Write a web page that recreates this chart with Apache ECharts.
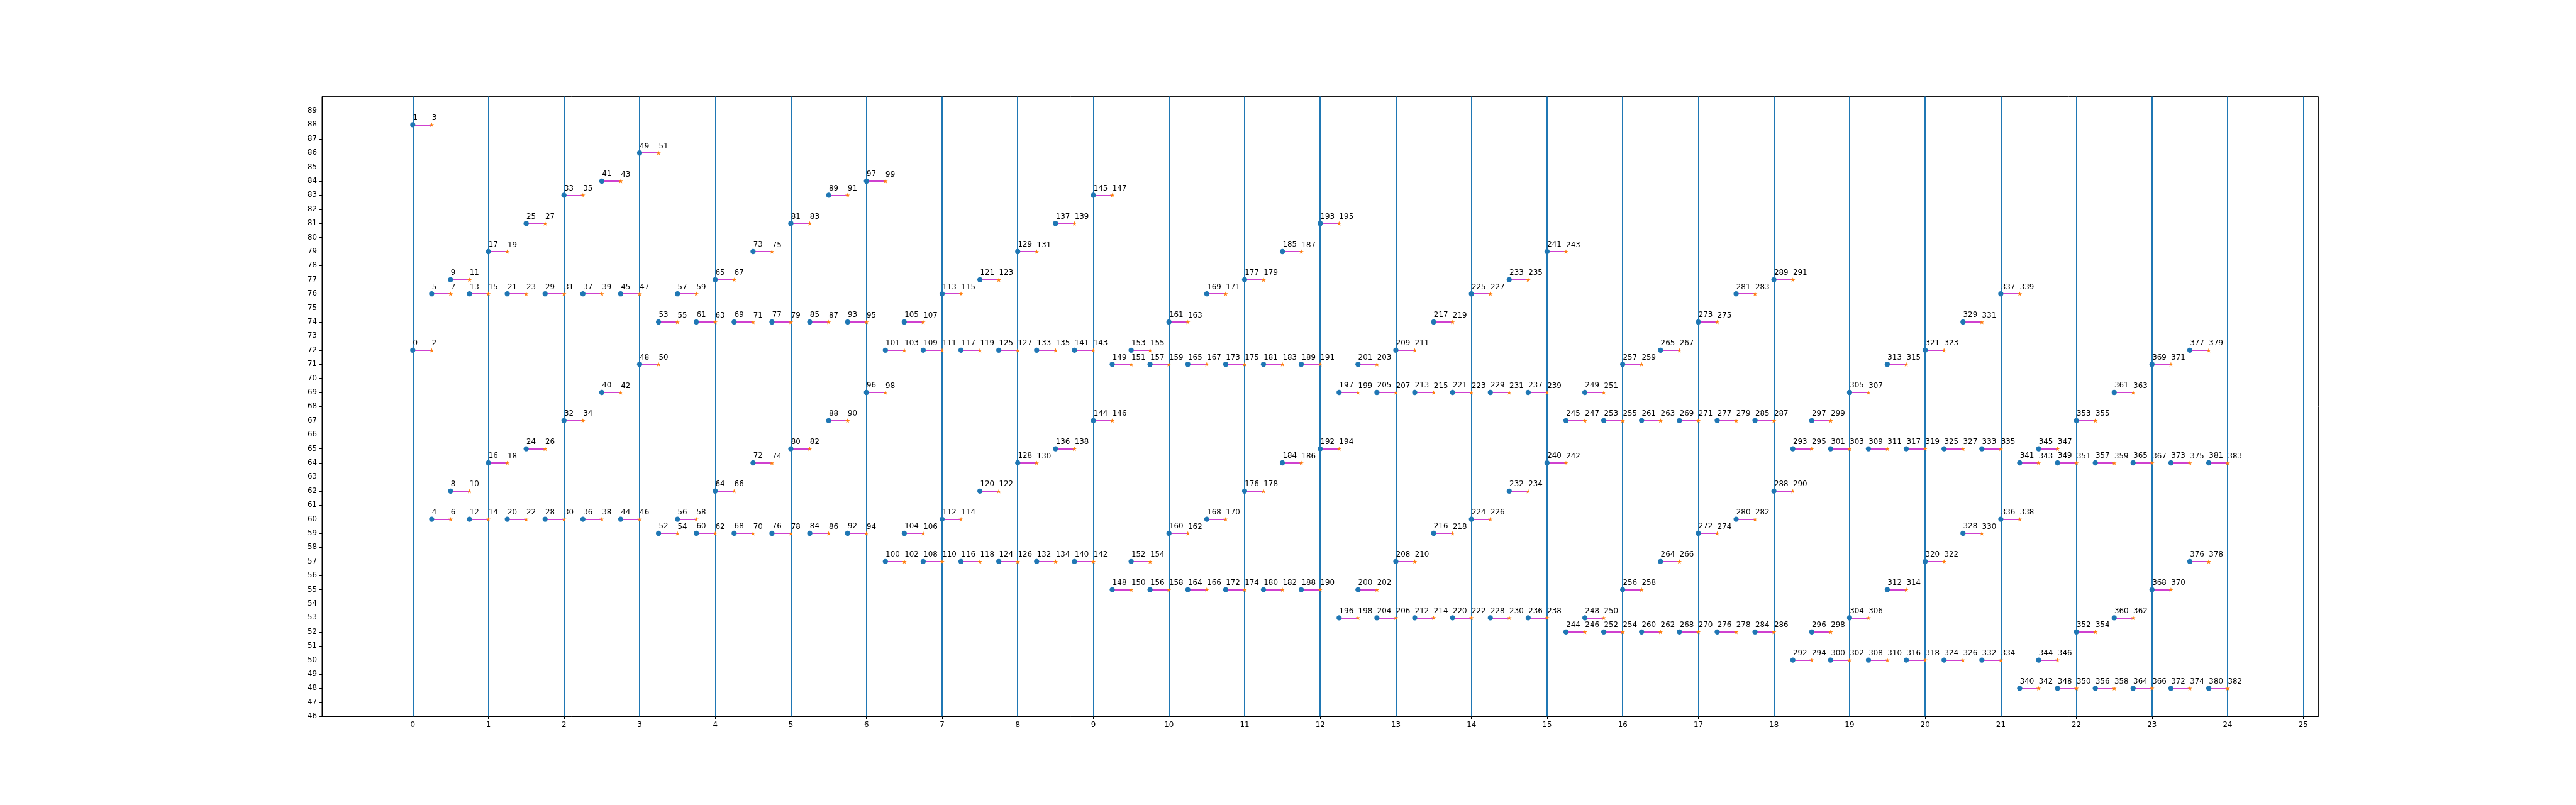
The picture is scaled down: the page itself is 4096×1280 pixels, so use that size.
<!DOCTYPE html>
<html>
<head>
<meta charset="utf-8">
<script src="https://cdn.jsdelivr.net/npm/echarts@6/dist/echarts.min.js"></script>
<style>
html,body{margin:0;padding:0;background:#fff;}
#chart{width:4096px;height:1280px;}
</style>
</head>
<body>
<div id="chart"></div>
<script>
// Upper level of each step (labels 4j+1 at start, 4j+3 at end)
const highValues = [
  88,76,77,76,79,76,81,76,83,76,84,76,86,74,76,74,
  77,74,79,74,81,74,83,74,84,72,74,72,76,72,77,72,
  79,72,81,72,83,71,72,71,74,71,76,71,77,71,79,71,
  81,69,71,69,72,69,74,69,76,69,77,69,79,67,69,67,
  71,67,72,67,74,67,76,67,77,65,67,65,69,65,71,65,
  72,65,74,65,76,64,65,64,67,64,69,64,71,64,72,64
];
// Lower level of each step (labels 4j at start, 4j+2 at end)
const lowValues = [
  72,60,62,60,64,60,65,60,67,60,69,60,71,59,60,59,
  62,59,64,59,65,59,67,59,69,57,59,57,60,57,62,57,
  64,57,65,57,67,55,57,55,59,55,60,55,62,55,64,55,
  65,53,55,53,57,53,59,53,60,53,62,53,64,52,53,52,
  55,52,57,52,59,52,60,52,62,50,52,50,53,50,55,50,
  57,50,59,50,60,48,50,48,52,48,53,48,55,48,57,48
];
const stepWidth = 0.25;
const vLinePositions = [0,1,2,3,4,5,6,7,8,9,10,11,12,13,14,15,16,17,18,19,20,21,22,23,24,25];
const xTickValues = [0,1,2,3,4,5,6,7,8,9,10,11,12,13,14,15,16,17,18,19,20,21,22,23,24,25];
const yTickValues = [46,47,48,49,50,51,52,53,54,55,56,57,58,59,60,61,62,63,64,65,66,67,68,69,70,71,72,73,74,75,76,77,78,79,80,81,82,83,84,85,86,87,88,89];

const FONT = 'DejaVu Sans';
const startPts = [], endPts = [], segs = [];
lowValues.forEach((lo, j) => {
  const hi = highValues[j];
  const xs = j * stepWidth, xe = (j + 1) * stepWidth;
  startPts.push({value: [xs, lo], name: String(4 * j)});
  startPts.push({value: [xs, hi], name: String(4 * j + 1)});
  endPts.push({value: [xe, lo], name: String(4 * j + 2)});
  endPts.push({value: [xe, hi], name: String(4 * j + 3)});
  segs.push({coords: [[xs, lo], [xe, lo]]});
  segs.push({coords: [[xs, hi], [xe, hi]]});
});

const starPath = 'path://M50,2 L61.2,36.3 L97.6,36.3 L68.2,57.6 L79.4,91.9 L50,70.7 L20.6,91.9 L31.8,57.6 L2.4,36.3 L38.8,36.3 Z';
const SYM = 8.3, STAR = 7.6;
function lbl(size){
  return {
    show: true,
    formatter: p => p.name,
    position: [size / 2 + 0.3, size / 2 - 10.6],
    align: 'left',
    verticalAlign: 'middle',
    color: '#000',
    fontFamily: FONT,
    fontSize: 11.85
  };
}

const chart = echarts.init(document.getElementById('chart'), null, {renderer: 'canvas'});
chart.setOption({
  animation: false,
  backgroundColor: '#fff',
  grid: {left: 512, right: 409.6, top: 153.6, bottom: 140.8, show: true, borderColor: '#000', borderWidth: 1, backgroundColor: 'transparent'},
  xAxis: {
    type: 'value', min: -1.2, max: 25.2,
    axisLine: {show: true, onZero: false, lineStyle: {color: '#000', width: 1}},
    axisTick: {show: true, length: 4.2, lineStyle: {color: '#000', width: 1}, customValues: xTickValues},
    axisLabel: {show: true, margin: 8, color: '#000', fontFamily: FONT, fontSize: 11.85, customValues: xTickValues, formatter: v => String(v)},
    splitLine: {show: false}
  },
  yAxis: {
    type: 'value', min: 46, max: 90, interval: 1,
    axisLine: {show: true, onZero: false, lineStyle: {color: '#000', width: 1}},
    axisTick: {show: true, length: 4.2, lineStyle: {color: '#000', width: 1}, customValues: yTickValues},
    axisLabel: {show: true, margin: 8, color: '#000', fontFamily: FONT, fontSize: 11.85, customValues: yTickValues, formatter: v => String(v)},
    splitLine: {show: false}
  },
  series: [
    {
      type: 'lines', coordinateSystem: 'cartesian2d', z: 2,
      data: segs,
      symbol: ['none', 'none'],
      lineStyle: {color: '#bf00bf', width: 1.5, opacity: 1},
      silent: true,
      markLine: {
        silent: true, symbol: ['none', 'none'], z: 1,
        label: {show: false},
        emphasis: {disabled: true},
        lineStyle: {color: '#1f77b4', width: 2, type: 'solid', opacity: 1},
        data: vLinePositions.map(v => ({xAxis: v}))
      }
    },
    {
      type: 'scatter', z: 4, symbol: 'circle', symbolSize: SYM,
      itemStyle: {color: '#1f77b4', opacity: 1},
      label: lbl(SYM),
      labelLayout: {hideOverlap: false},
      data: startPts
    },
    {
      type: 'scatter', z: 5, symbol: starPath, symbolKeepAspect: true, symbolSize: STAR,
      itemStyle: {color: '#ff7f0e', opacity: 1},
      label: lbl(STAR),
      labelLayout: {hideOverlap: false},
      data: endPts
    }
  ]
});
</script>
</body>
</html>
